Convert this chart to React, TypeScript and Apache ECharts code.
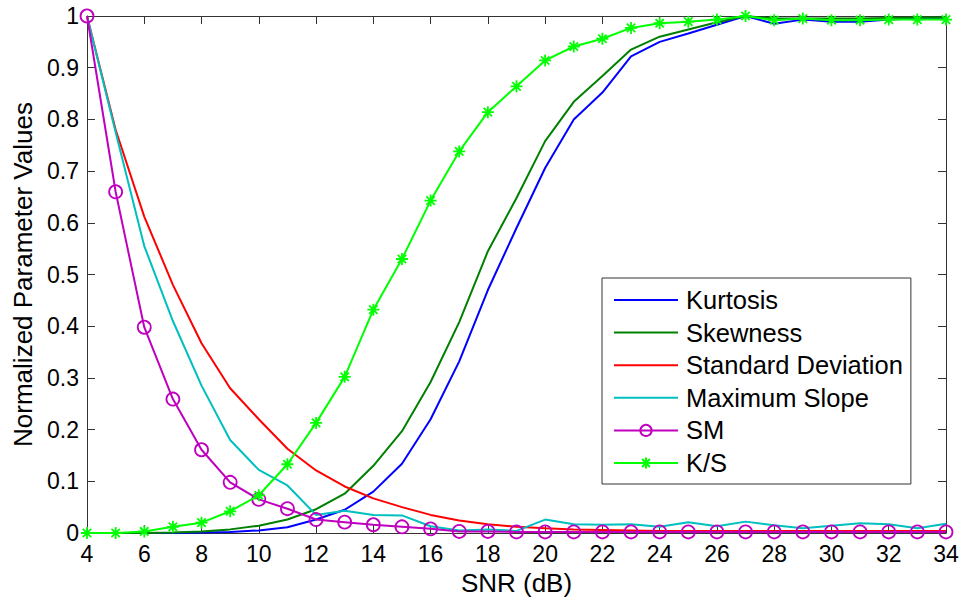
import React, { useEffect, useRef } from "react";
import * as echarts from "echarts";

const snr = [4, 5, 6, 7, 8, 9, 10, 11, 12, 13, 14, 15, 16, 17, 18, 19, 20, 21, 22, 23, 24, 25, 26, 27, 28, 29, 30, 31, 32, 33, 34];

const kurtosis = [0, 0, 0, 0, 0.001, 0.002, 0.005, 0.011, 0.026, 0.045, 0.08, 0.134, 0.22, 0.332, 0.47, 0.59, 0.706, 0.8, 0.852, 0.922, 0.95, 0.966, 0.983, 1.0, 0.985, 0.993, 0.989, 0.989, 0.993, 0.995, 0.995];
const skewness = [0, 0, 0, 0.001, 0.003, 0.007, 0.014, 0.026, 0.046, 0.076, 0.13, 0.197, 0.292, 0.408, 0.545, 0.648, 0.758, 0.834, 0.884, 0.935, 0.96, 0.974, 0.988, 1.0, 0.995, 0.995, 0.995, 0.995, 0.996, 0.997, 0.997];
const stdDev = [1.0, 0.78, 0.612, 0.48, 0.367, 0.28, 0.22, 0.163, 0.121, 0.09, 0.067, 0.05, 0.035, 0.024, 0.017, 0.012, 0.009, 0.007, 0.006, 0.005, 0.004, 0.004, 0.004, 0.004, 0.004, 0.004, 0.004, 0.004, 0.004, 0.004, 0.004];
const maxSlope = [1.0, 0.775, 0.555, 0.41, 0.285, 0.18, 0.122, 0.092, 0.035, 0.043, 0.035, 0.034, 0.013, 0.005, 0.007, 0.004, 0.026, 0.017, 0.016, 0.017, 0.012, 0.021, 0.013, 0.022, 0.015, 0.009, 0.014, 0.019, 0.017, 0.009, 0.018];
const sm = [1.0, 0.66, 0.398, 0.259, 0.161, 0.098, 0.065, 0.047, 0.026, 0.021, 0.016, 0.012, 0.008, 0.003, 0.003, 0.002, 0.002, 0.002, 0.002, 0.002, 0.002, 0.002, 0.002, 0.002, 0.002, 0.002, 0.002, 0.002, 0.002, 0.002, 0.002];
const ks = [0, 0, 0.003, 0.012, 0.02, 0.042, 0.073, 0.133, 0.213, 0.302, 0.432, 0.53, 0.643, 0.738, 0.814, 0.864, 0.914, 0.941, 0.956, 0.977, 0.986, 0.989, 0.993, 1.0, 0.992, 0.995, 0.992, 0.992, 0.993, 0.993, 0.993];

const seriesNames = ["Kurtosis", "Skewness", "Standard Deviation", "Maximum Slope", "SM", "K/S"];
const seriesColors = ["#0000ff", "#008000", "#ff0000", "#00bfbf", "#bf00bf", "#00ff00"];
const seriesValues = [kurtosis, skewness, stdDev, maxSlope, sm, ks];

const xTitle = "SNR (dB)";
const yTitle = "Normalized Parameter Values";

const FONT = "'Liberation Sans', Arial, Helvetica, sans-serif";
const ASTERISK = "path://M0,-1L0,1M-1,0L1,0M-0.7,-0.7L0.7,0.7M-0.7,0.7L0.7,-0.7";

export default function App() {
  const ref = useRef<HTMLDivElement>(null);

  useEffect(() => {
    if (!ref.current) return;
    const chart = echarts.init(ref.current, undefined, { renderer: "svg" });

    const series = seriesNames.map((name, i) => {
      const data = snr.map((x, j) => [x, seriesValues[i][j]]);
      const base: any = {
        name,
        type: "line",
        data,
        lineStyle: { color: seriesColors[i], width: 2 },
        itemStyle: { color: seriesColors[i] },
        emphasis: { disabled: true },
        z: 2 + i,
      };
      if (name === "SM") {
        base.symbol = "circle";
        base.symbolSize = 13;
        base.showAllSymbol = true;
        base.itemStyle = { color: "rgba(255,255,255,0)", borderColor: seriesColors[i], borderWidth: 1.8 };
      } else if (name === "K/S") {
        base.symbol = ASTERISK;
        base.symbolSize = 12;
        base.showAllSymbol = true;
        base.itemStyle = { color: seriesColors[i], borderColor: seriesColors[i], borderWidth: 1.8 };
      } else {
        base.symbol = "none";
      }
      return base;
    });

    const axisLineStyle = { color: "#333", width: 1 };

    chart.setOption({
      animation: false,
      backgroundColor: "#ffffff",
      grid: { left: 87, right: 17, top: 16, bottom: 71, containLabel: false },
      legend: {
        orient: "vertical",
        left: 602,
        top: 278,
        padding: [9, 8, 8, 11],
        itemWidth: 64,
        itemHeight: 14,
        itemGap: 6.6,
        backgroundColor: "#ffffff",
        borderColor: "#333",
        borderWidth: 1,
        borderRadius: 0,
        selectedMode: false,
        textStyle: { fontFamily: FONT, fontSize: 25.5, lineHeight: 24, color: "#000", padding: [0, 0, 0, 3] },
        data: seriesNames.map((n, i) =>
          i < 4
            ? { name: n, itemStyle: { opacity: 0 }, lineStyle: { opacity: 1 } }
            : { name: n }
        ),
      },
      xAxis: [
        {
          type: "value",
          min: 4,
          max: 34,
          interval: 2,
          name: xTitle,
          nameLocation: "middle",
          nameGap: 34,
          nameTextStyle: { fontFamily: FONT, fontSize: 26, color: "#000" },
          axisLine: { show: true, onZero: false, lineStyle: axisLineStyle },
          axisTick: { show: true, inside: true, length: 8, lineStyle: axisLineStyle },
          axisLabel: { fontFamily: FONT, fontSize: 23, color: "#000", margin: 9 },
          splitLine: { show: false },
        },
        {
          type: "value",
          position: "top",
          min: 4,
          max: 34,
          interval: 2,
          axisLine: { show: true, onZero: false, lineStyle: axisLineStyle },
          axisTick: { show: true, inside: true, length: 8, lineStyle: axisLineStyle },
          axisLabel: { show: false },
          splitLine: { show: false },
        },
      ],
      yAxis: [
        {
          type: "value",
          min: 0,
          max: 1,
          interval: 0.1,
          name: yTitle,
          nameLocation: "middle",
          nameGap: 50,
          nameTextStyle: { fontFamily: FONT, fontSize: 26, color: "#000" },
          axisLine: { show: true, onZero: false, lineStyle: axisLineStyle },
          axisTick: { show: true, inside: true, length: 8, lineStyle: axisLineStyle },
          axisLabel: {
            fontFamily: FONT,
            fontSize: 23,
            color: "#000",
            margin: 8,
            formatter: (v: number) => String(parseFloat(v.toFixed(1))),
          },
          splitLine: { show: false },
        },
        {
          type: "value",
          position: "right",
          min: 0,
          max: 1,
          interval: 0.1,
          axisLine: { show: true, onZero: false, lineStyle: axisLineStyle },
          axisTick: { show: true, inside: true, length: 8, lineStyle: axisLineStyle },
          axisLabel: { show: false },
          splitLine: { show: false },
        },
      ],
      series,
    });

    return () => chart.dispose();
  }, []);

  return (
    <div
      ref={ref}
      style={{ position: "absolute", left: 0, top: 0, width: 963, height: 604, background: "#fff" }}
    />
  );
}
